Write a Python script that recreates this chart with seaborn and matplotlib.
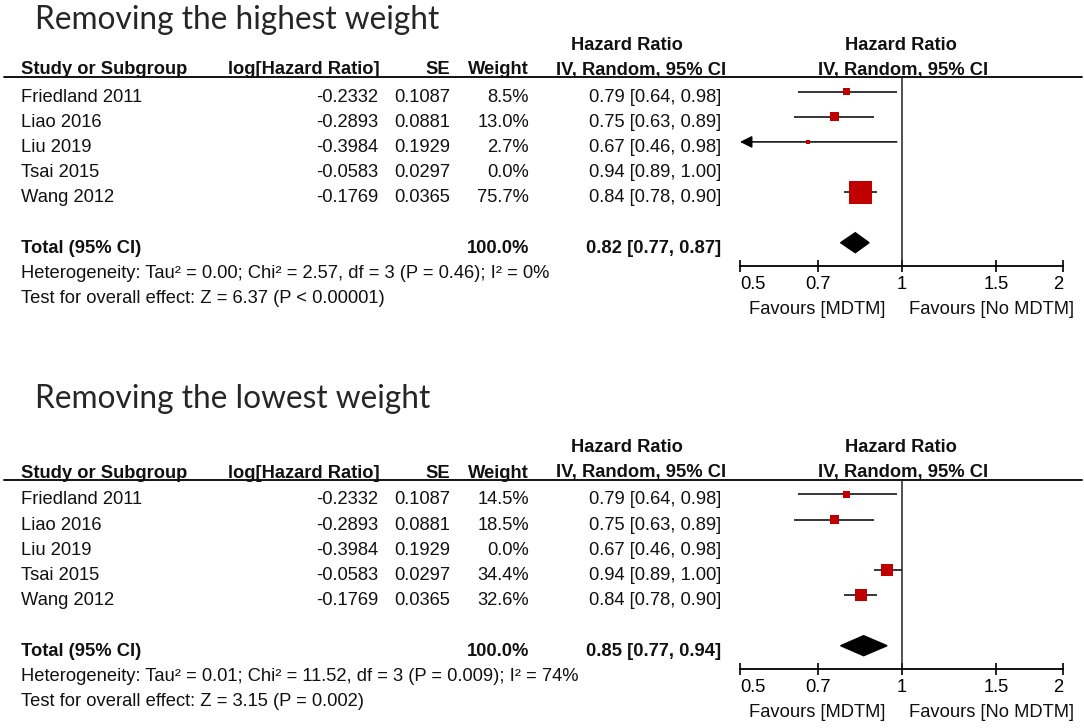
import numpy as np
import pandas as pd
import matplotlib
matplotlib.use("Agg")
import matplotlib.pyplot as plt
from matplotlib.patches import Polygon, FancyArrowPatch
import seaborn as sns

# data
studies = ["Friedland 2011", "Liao 2016", "Liu 2019", "Tsai 2015", "Wang 2012"]
log_hr = [-0.2332, -0.2893, -0.3984, -0.0583, -0.1769]
se = [0.1087, 0.0881, 0.1929, 0.0297, 0.0365]
hr = [0.79, 0.75, 0.67, 0.94, 0.84]
ci_lo = [0.64, 0.63, 0.46, 0.89, 0.78]
ci_hi = [0.98, 0.89, 0.98, 1.00, 0.90]

weight_high = [8.5, 13.0, 2.7, 0.0, 75.7]
weight_low = [14.5, 18.5, 0.0, 34.4, 32.6]
weight_total = 100.0

total_high = [0.82, 0.77, 0.87]
total_low = [0.85, 0.77, 0.94]

hetero_high = "Heterogeneity: Tau² = 0.00; Chi² = 2.57, df = 3 (P = 0.46); I² = 0%"
hetero_low = "Heterogeneity: Tau² = 0.01; Chi² = 11.52, df = 3 (P = 0.009); I² = 74%"
test_high = "Test for overall effect: Z = 6.37 (P < 0.00001)"
test_low = "Test for overall effect: Z = 3.15 (P = 0.002)"

ticks = [0.5, 0.7, 1, 1.5, 2]
tick_labels = ["0.5", "0.7", "1", "1.5", "2"]

sns.set_style("white")
plt.rcParams["font.family"] = ["Liberation Sans", "DejaVu Sans"]

W, H = 1084, 728
fig = plt.figure(figsize=(W / 100, H / 100), dpi=100)
bg = fig.add_axes([0, 0, 1, 1])
bg.set_xlim(0, W)
bg.set_ylim(H, 0)
bg.axis("off")

FS = 13.2
ROW = 25.2
RED = "#C00000"


def panel(y0, title, title_y, weights, total, hetero, test, box_px):
    bg.text(35, title_y, title, family="Lato", fontsize=22.8, va="baseline")

    hb = dict(fontsize=FS, fontweight="bold", va="baseline", color="#111111")
    nb = dict(fontsize=FS, va="baseline", color="#111111")
    bg.text(627, y0 + 49.5, "Hazard Ratio", ha="center", **hb)
    bg.text(901, y0 + 49.5, "Hazard Ratio", ha="center", **hb)
    bg.text(21, y0 + 74.5, "Study or Subgroup", ha="left", **hb)
    bg.text(380, y0 + 74.5, "log[Hazard Ratio]", ha="right", **hb)
    bg.text(450, y0 + 74.5, "SE", ha="right", **hb)
    bg.text(529, y0 + 74.5, "Weight", ha="right", **hb)
    bg.text(641, y0 + 74.5, "IV, Random, 95% CI", ha="center", **hb)
    bg.text(903, y0 + 74.5, "IV, Random, 95% CI", ha="center", **hb)
    bg.plot([4, 1082], [y0 + 77, y0 + 77], color="black", lw=1.3)

    for i, name in enumerate(studies):
        yb = y0 + 101.5 + i * ROW
        bg.text(21, yb, name, ha="left", **nb)
        bg.text(378, yb, f"{log_hr[i]:.4f}", ha="right", **nb)
        bg.text(450, yb, f"{se[i]:.4f}", ha="right", **nb)
        bg.text(529, yb, f"{weights[i]:.1f}%", ha="right", **nb)
        bg.text(721, yb, f"{hr[i]:.2f} [{ci_lo[i]:.2f}, {ci_hi[i]:.2f}]", ha="right", **nb)

    yt = y0 + 101.5 + 6 * ROW
    bg.text(21, yt, "Total (95% CI)", ha="left", **hb)
    bg.text(529, yt, f"{weight_total:.1f}%", ha="right", **hb)
    bg.text(721, yt, f"{total[0]:.2f} [{total[1]:.2f}, {total[2]:.2f}]", ha="right", **hb)
    bg.text(21, y0 + 101.5 + 7 * ROW, hetero, ha="left", **nb)
    bg.text(21, y0 + 101.5 + 8 * ROW, test, ha="left", **nb)

    bg.text(885, y0 + 314, "Favours [MDTM]", ha="right", **nb)
    bg.text(909, y0 + 314, "Favours [No MDTM]", ha="left", **nb)

    # forest plot area, y in local pixel rows
    top, bottom = 77, 266
    ax = fig.add_axes([740 / W, 1 - (y0 + bottom) / H, 323 / W, (bottom - top) / H])
    ax.set_xscale("log")
    ax.patch.set_alpha(0)

    df = pd.DataFrame({"study": studies, "hr": hr, "lo": ci_lo, "hi": ci_hi,
                       "weight": weights})
    df["y"] = 91.5 + np.arange(len(df)) * ROW
    df = df[df["weight"] > 0]

    xmin = ticks[0]
    for _, r in df.iterrows():
        if r["lo"] < xmin:
            ax.add_patch(FancyArrowPatch((r["hi"], r["y"]), (xmin, r["y"]),
                                         arrowstyle="-|>,head_length=0.6,head_width=0.3",
                                         mutation_scale=12, color="black", lw=1.1,
                                         shrinkA=0, shrinkB=0))
        else:
            ax.hlines(r["y"], r["lo"], r["hi"], color="black", lw=1.1)

    smax = (box_px * 0.72) ** 2
    sns.scatterplot(data=df, x="hr", y="y", size="weight", sizes=(0, smax),
                    size_norm=(0, df["weight"].max()), marker="s", color=RED,
                    edgecolor="none", linewidth=0, legend=False, ax=ax, zorder=3)

    yd = 91.5 + 6 * ROW
    ax.add_patch(Polygon([(total[1], yd), (total[0], yd - 10), (total[2], yd),
                          (total[0], yd + 10)], closed=True, color="black", zorder=3))

    ax.axvline(1, color="#222222", lw=1.1)
    ax.set_xlim(ticks[0], ticks[-1])
    ax.set_ylim(bottom, top)
    ax.set_xlabel("")
    ax.set_ylabel("")
    ax.set_yticks([])
    for s in ["top", "left", "right"]:
        ax.spines[s].set_visible(False)
    ax.spines["bottom"].set_linewidth(1.3)
    ax.spines["bottom"].set_color("black")
    ax.minorticks_off()
    ax.set_xticks(ticks)
    ax.set_xticklabels(tick_labels)
    ax.tick_params(axis="x", which="major", direction="inout", length=9, width=1.2,
                   pad=2.5, labelsize=FS, colors="black", bottom=True)
    labs = ax.get_xticklabels()
    labs[0].set_ha("left")
    labs[-1].set_ha("right")


panel(0, "Removing the highest weight", 29, weight_high, total_high,
      hetero_high, test_high, 23)
panel(403, "Removing the lowest weight", 408, weight_low, total_low,
      hetero_low, test_low, 12)

fig.savefig("out.png", dpi=100)
